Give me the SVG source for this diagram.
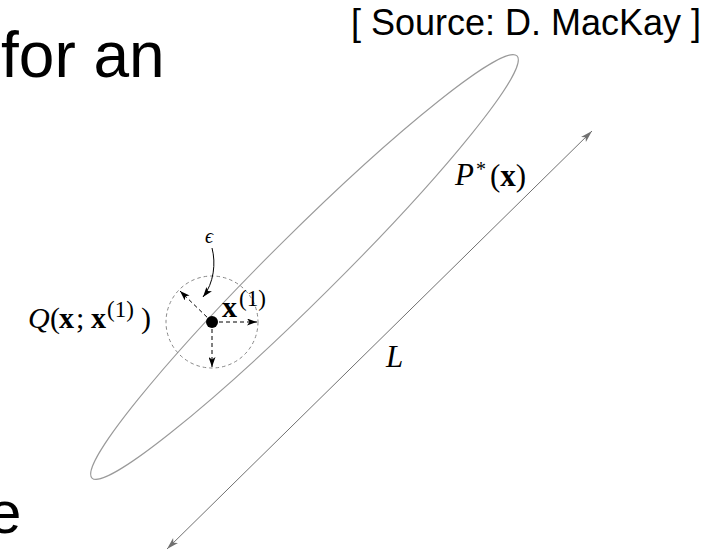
<svg xmlns="http://www.w3.org/2000/svg" width="702" height="552" viewBox="0 0 702 552">
  <defs>
    <style>
      .slide { font-family: "Liberation Sans", Arial, sans-serif; fill: #000; }
      .math { font-family: "Liberation Serif", "DejaVu Serif", serif; fill: #000; }
      .it { font-style: italic; }
      .bf { font-weight: bold; }
      .dash { stroke: #000; stroke-width: 1; stroke-dasharray: 4 3; fill: none; }
    </style>
    <marker id="ahGray" viewBox="0 0 12 8" refX="12" refY="4" markerWidth="12" markerHeight="8" markerUnits="userSpaceOnUse" orient="auto-start-reverse">
      <path d="M0,0.5 L12,4 L0,7.5 L3,4 Z" fill="#707070"/>
    </marker>
    <marker id="ahBlack" viewBox="0 0 10 7" refX="10" refY="3.5" markerWidth="10" markerHeight="7" markerUnits="userSpaceOnUse" orient="auto">
      <path d="M0,0 L10,3.5 L0,7 L2.5,3.5 Z" fill="#000"/>
    </marker>
  </defs>

  <rect width="702" height="552" fill="#fff"/>

  <!-- slide text fragments -->
  <g id="slide-text">
    <text class="slide" x="1" y="77" font-size="64">for an</text>
    <text class="slide" x="-12" y="533" font-size="60">e</text>
    <text class="slide" x="351" y="35" font-size="36">[ Source: D. MacKay ]</text>
  </g>

  <!-- target distribution P*(x) -->
  <g id="ellipse-P">
    <ellipse cx="304.5" cy="267" rx="299.5" ry="33" transform="rotate(-44.8 304.5 267)" fill="none" stroke="#9a9a9a" stroke-width="1.1"/>
    <text class="math it" x="455" y="185" font-size="31">P</text>
    <text class="math" x="476" y="176" font-size="20">*</text>
    <text class="math" x="490" y="186" font-size="31">(<tspan class="bf">x</tspan>)</text>
  </g>

  <!-- proposal Q -->
  <g id="proposal-Q">
    <circle cx="212" cy="322" r="46" fill="none" stroke="#888" stroke-width="1" stroke-dasharray="3.5 3"/>
    <circle cx="212" cy="322" r="6" fill="#000"/>
    <text class="math it" x="28" y="328" font-size="30">Q</text>
    <text class="math" x="50" y="328" font-size="30">(</text>
    <text class="math bf" x="59" y="328" font-size="30">x</text>
    <text class="math" x="76" y="328" font-size="30">;</text>
    <text class="math bf" x="91" y="328" font-size="30">x</text>
    <text class="math" x="107" y="317" font-size="23">(1)</text>
    <text class="math" x="141" y="328" font-size="30">)</text>
    <text class="math bf" x="222" y="317" font-size="30">x</text>
    <text class="math" x="239" y="306" font-size="23">(1)</text>
  </g>

  <!-- epsilon label -->
  <g id="epsilon">
    <text class="math it" x="205" y="243" font-size="20">ϵ</text>
  </g>

  <!-- length scale L -->
  <g id="label-L">
    <text class="math it" x="386" y="367" font-size="31">L</text>
  </g>

  <!-- connectors -->
  <g id="connectors">
    <line x1="592" y1="131" x2="167" y2="549" stroke="#707070" stroke-width="1" marker-start="url(#ahGray)" marker-end="url(#ahGray)"/>
    <line class="dash" x1="212" y1="322" x2="257" y2="322" marker-end="url(#ahBlack)"/>
    <line class="dash" x1="212" y1="322" x2="212" y2="367" marker-end="url(#ahBlack)"/>
    <line class="dash" x1="212" y1="322" x2="180" y2="291" marker-end="url(#ahBlack)"/>
    <path d="M212,248 C216,263 214,283 203,297" fill="none" stroke="#000" stroke-width="1" marker-end="url(#ahBlack)"/>
  </g>
</svg>
